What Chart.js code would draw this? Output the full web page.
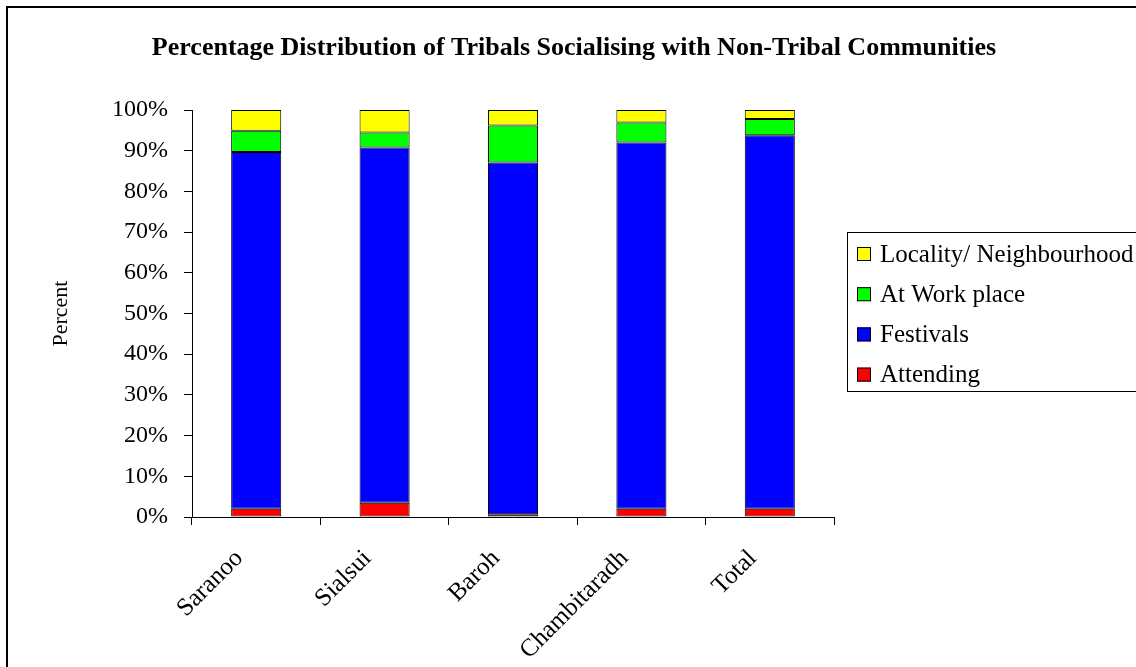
<!DOCTYPE html>
<html>
<head>
<meta charset="utf-8">
<script src="https://cdn.jsdelivr.net/npm/chart.js@4/dist/chart.umd.min.js"></script>
<style>
  html, body { margin: 0; padding: 0; background: #fff; }
  #wrap { width: 1136px; height: 667px; }
</style>
</head>
<body>
<div id="wrap"><canvas id="chart" width="1136" height="667"></canvas></div>
<script>
// Villages surveyed (last column is the overall figure)
const categories = ['Saranoo', 'Sialsui', 'Baroh', 'Chambitaradh', 'Total'];

// Share of respondents (%) by occasion of socialising
const attending = [2.0, 3.5, 0.7, 2.0, 2.0];
const festivals = [87.7, 87.3, 86.4, 90.0, 91.8];
const workPlace = [5.2, 3.7, 9.1, 4.9, 4.0];
const locality  = [5.1, 5.5, 3.8, 3.1, 2.2];

const seriesNames  = ['Attending', 'Festivals', 'At Work place', 'Locality/ Neighbourhood'];
const seriesColors = ['#FF0000', '#0000FF', '#00FF00', '#FFFF00'];

const yTicks = [0, 10, 20, 30, 40, 50, 60, 70, 80, 90, 100];
const chartTitle = 'Percentage Distribution of Tribals Socialising with Non-Tribal Communities';
const yAxisTitle = 'Percent';

const SERIF = "'Liberation Serif', 'Times New Roman', serif";

// Frame, title and boxed legend drawn on top of the chart
const decorations = {
  id: 'decorations',
  afterDraw(chart) {
    const ctx = chart.ctx;
    ctx.save();
    // outer frame
    ctx.strokeStyle = '#000';
    ctx.lineWidth = 2;
    ctx.strokeRect(7, 7, chart.width + 20, chart.height + 20);

    // title
    ctx.fillStyle = '#000';
    ctx.font = "bold 26px " + SERIF;
    ctx.textAlign = 'center';
    ctx.textBaseline = 'alphabetic';
    ctx.fillText(chartTitle, 574, 55);

    // legend box
    ctx.lineWidth = 1;
    ctx.strokeRect(847.5, 232.5, 400, 159);
    const ds = chart.data.datasets.slice().reverse();
    ctx.font = "25px " + SERIF;
    ctx.textAlign = 'left';
    ctx.textBaseline = 'middle';
    ds.forEach((d, i) => {
      const cy = 254 + i * 40.2;
      ctx.fillStyle = d.backgroundColor;
      ctx.fillRect(857, cy - 7, 14, 14);
      ctx.strokeStyle = '#000';
      ctx.strokeRect(857.5, cy - 6.5, 13, 13);
      ctx.fillStyle = '#000';
      ctx.fillText(d.label, 880, cy + 1);
    });
    ctx.restore();
  }
};

const values = [attending, festivals, workPlace, locality];

new Chart(document.getElementById('chart'), {
  type: 'bar',
  data: {
    labels: categories,
    datasets: values.map((v, i) => ({
      label: seriesNames[i],
      data: v,
      backgroundColor: seriesColors[i],
      borderColor: '#000',
      borderWidth: 1,
      borderSkipped: false,
      categoryPercentage: 1.0,
      barPercentage: 0.39
    }))
  },
  options: {
    responsive: false,
    animation: false,
    devicePixelRatio: 1,
    layout: { padding: { left: 42, top: 110, right: 302, bottom: 0 } },
    plugins: {
      legend: { display: false },
      title: { display: false },
      tooltip: { enabled: false }
    },
    scales: {
      x: {
        stacked: true,
        offset: true,
        afterFit(scale) { scale.height = 150; },
        grid: {
          display: true, offset: true, drawOnChartArea: false,
          drawTicks: true, tickLength: 8, color: '#000', lineWidth: 1
        },
        border: { display: true, color: '#000', width: 1 },
        ticks: {
          color: '#000', minRotation: 45, maxRotation: 45,
          padding: 19, labelOffset: -17,
          font: { family: SERIF, size: 25 }
        }
      },
      y: {
        stacked: true,
        min: 0, max: 100,
        afterFit(scale) { scale.width = 150; },
        afterBuildTicks(scale) { scale.ticks = yTicks.map(v => ({ value: v })); },
        grid: {
          display: true, drawOnChartArea: false,
          drawTicks: true, tickLength: 8, color: '#000', lineWidth: 1
        },
        border: { display: true, color: '#000', width: 1 },
        ticks: {
          color: '#000', padding: 16,
          font: { family: SERIF, size: 24 },
          callback: v => v + '%'
        },
        title: {
          display: true, text: yAxisTitle, color: '#000', padding: 6,
          font: { family: SERIF, size: 22 }
        }
      }
    }
  },
  plugins: [decorations]
});
</script>
</body>
</html>
